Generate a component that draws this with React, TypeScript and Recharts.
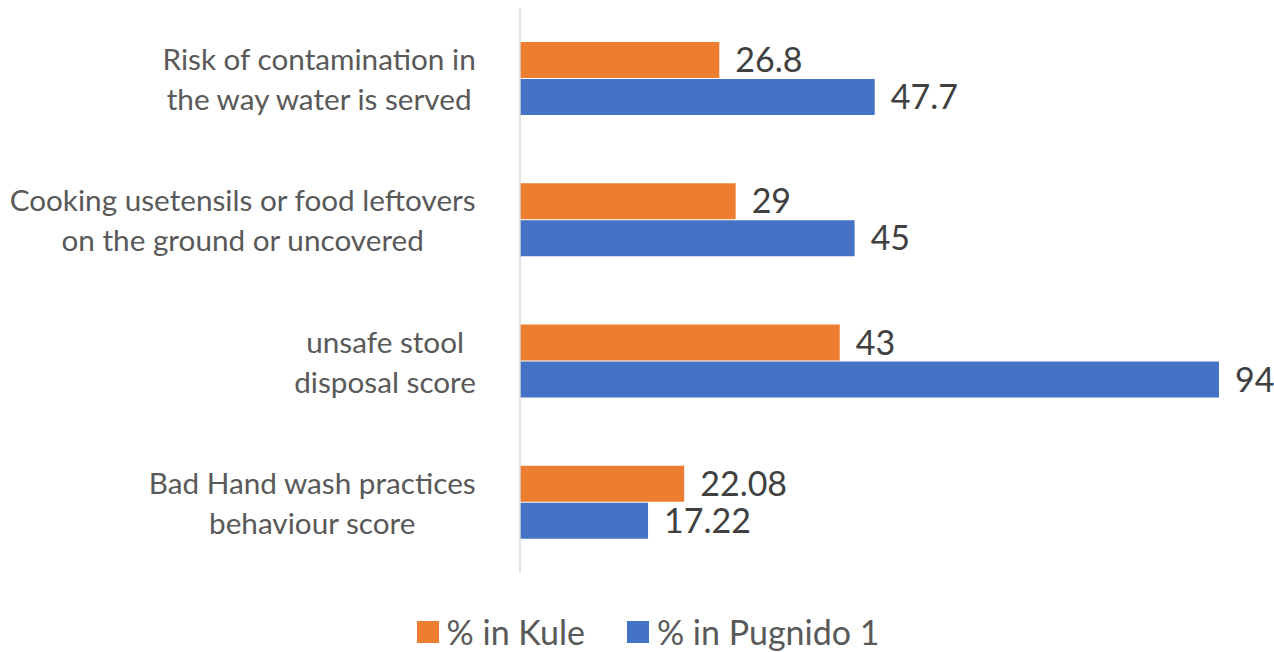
import React from "react";
import { BarChart, Bar, XAxis, YAxis, LabelList } from "recharts";

const categories = [
  "Risk of contamination in\nthe way water is served",
  "Cooking usetensils or food leftovers\non the ground or uncovered",
  "unsafe stool\ndisposal score",
  "Bad Hand wash practices\nbehaviour score",
];
const kule = [26.8, 29, 43, 22.08];
const pugnido = [47.7, 45, 94, 17.22];
const seriesNames = ["% in Kule", "% in Pugnido 1"];
const colors = ["#ED7D31", "#4472C4"];

const data = categories.map((c, i) => ({ cat: c, kule: kule[i], pugnido: pugnido[i] }));

const FONT = "Lato, 'Open Sans', sans-serif";
const CAT_SIZE = 29.7;

let ctx: CanvasRenderingContext2D | null = null;
function measure(t: string) {
  if (!ctx) ctx = document.createElement("canvas").getContext("2d");
  if (!ctx) return t.length * CAT_SIZE * 0.5;
  ctx.font = `${CAT_SIZE}px Lato`;
  return ctx.measureText(t).width;
}

const CatTick = (props: any) => {
  const { y, payload } = props;
  const lines: string[] = String(payload.value).split("\n");
  const maxW = Math.max(...lines.map(measure));
  const right = 476;
  const cx = right - maxW / 2;
  const lh = 40;
  const start = y - ((lines.length - 1) * lh) / 2;
  return (
    <g>
      {lines.map((l, i) => (
        <text
          key={i}
          x={cx}
          y={start + i * lh}
          textAnchor="middle"
          dominantBaseline="central"
          fill="#595959"
          fontSize={CAT_SIZE}
          fontFamily={FONT}
        >
          {l}
        </text>
      ))}
    </g>
  );
};

const LegendBox = () => (
  <div
    style={{
      position: "absolute",
      left: 11,
      top: 611,
      width: 1274,
      display: "flex",
      justifyContent: "center",
      alignItems: "center",
      fontFamily: FONT,
      fontSize: 34,
      color: "#595959",
    }}
  >
    {seriesNames.map((n, i) => (
      <div key={n} style={{ display: "flex", alignItems: "center", marginRight: i === 0 ? 42 : 0 }}>
        <div style={{ width: 22, height: 22, background: colors[i], marginRight: 8 }} />
        <span>{n}</span>
      </div>
    ))}
  </div>
);

export default function App() {
  return (
    <div style={{ position: "absolute", left: 0, top: 0, width: 1274, height: 652, background: "#fff", overflow: "hidden" }}>
      <BarChart
        width={1274}
        height={652}
        data={data}
        layout="vertical"
        margin={{ top: 8, right: 55, bottom: 79, left: 0 }}
        barSize={36}
        barGap={1}
      >
        <XAxis type="number" domain={[0, 94]} hide />
        <YAxis
          type="category"
          dataKey="cat"
          width={520}
          axisLine={{ stroke: "#D9D9D9", strokeWidth: 1.5 }}
          tickLine={false}
          tick={<CatTick />}
          interval={0}
        />
        <Bar dataKey="kule" fill={colors[0]} isAnimationActive={false}>
          <LabelList dataKey="kule" position="right" offset={16} fill="#404040" fontSize={34} fontFamily={FONT} />
        </Bar>
        <Bar dataKey="pugnido" fill={colors[1]} isAnimationActive={false}>
          <LabelList dataKey="pugnido" position="right" offset={16} fill="#404040" fontSize={34} fontFamily={FONT} />
        </Bar>
      </BarChart>
      <LegendBox />
    </div>
  );
}
